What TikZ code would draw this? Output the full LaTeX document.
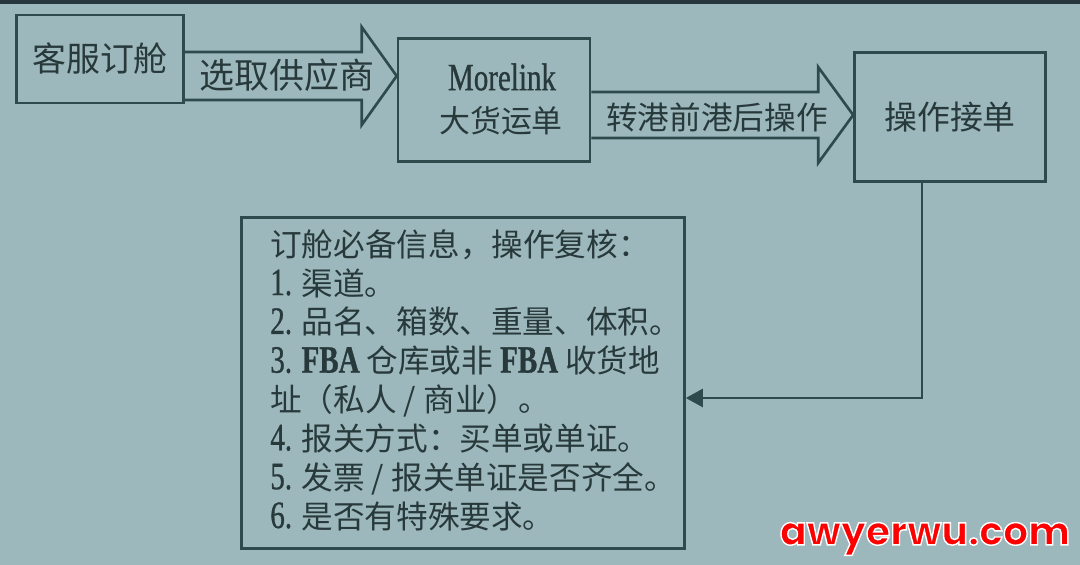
\documentclass[tikz,border=0pt]{standalone}
\usepackage{fontspec}
\setmainfont{Noto Sans CJK SC}
\newfontfamily\lat[FakeStretch=0.75,FakeBold=0.8]{Liberation Serif}
\newfontfamily\wmfont{Poppins}
\usetikzlibrary{calc,arrows.meta}
\definecolor{bgc}{HTML}{9DB8BC}
\definecolor{topc}{HTML}{26363C}
\definecolor{linec}{HTML}{2E4A4D}
\definecolor{textc}{HTML}{27393B}
\definecolor{wmred}{HTML}{FF0000}
\newcommand\pxu{0.02cm}
\newcommand\num[1]{{\lat\fontsize{22}{22.1}\selectfont #1}\hspace{0.3em}}
\newcommand\fba{{\lat\bfseries\fontsize{22}{22.1}\selectfont FBA}}
\newcommand\outlined[1]{\special{pdf:literal direct 1 1 1 RG 0.8 w 2 Tr}#1\special{pdf:literal direct 0 Tr}}
\begin{document}
\begin{tikzpicture}[x=0.02cm,y=-0.02cm,
  box/.style={draw=linec, line width=1.5pt, inner sep=0pt},
  blk/.style={draw=linec, line width=1.5pt, line join=miter},
  conn/.style={draw=linec, line width=1.5pt, -{Triangle[length=0.34cm,width=0.36cm]}},
  lbl/.style={text=textc, inner sep=0pt}]
% background
\fill[bgc] (0,0) rectangle (1080,565);
\fill[topc] (0,0) rectangle (1080,4);
\useasboundingbox (0,0) rectangle (1080,565);

% boxes
\node[box, minimum width=167*\pxu, minimum height=88*\pxu] (b1) at (100,59) {};
\node[lbl, font=\fontsize{19.3}{22}\selectfont] (b1t) at (b1.center) {客服订舱};

\node[box, minimum width=192*\pxu, minimum height=123*\pxu] (b2) at (494,100) {};
\node[lbl, font=\lat\fontsize{22}{24}\selectfont] (b2t1) at (502,77) {Morelink};
\node[lbl, font=\fontsize{17.6}{20}\selectfont] (b2t2) at (501,121) {大货运单};

\node[box, minimum width=191*\pxu, minimum height=129*\pxu] (b3) at (950,117) {};
\node[lbl, font=\fontsize{18.7}{22}\selectfont] (b3t) at (b3.center) {操作接单};

\node[box, minimum width=443*\pxu, minimum height=331*\pxu] (big) at (463,383) {};
\node[lbl, anchor=west, align=left, font=\fontsize{18}{22.1}\selectfont] (bigt) at (270,380) {%
订舱必备信息，操作复核：\\
\num{1.}渠道。\\
\num{2.}品名、箱数、重量、体积。\\
\num{3.}\fba\ 仓库或非 \fba\ 收货地\\
址（私人 / 商业）。\\
\num{4.}报关方式：买单或单证。\\
\num{5.}发票 / 报关单证是否齐全。\\
\num{6.}是否有特殊要求。};

% block arrow 1
\coordinate (a1y) at (0,76);
\path (b1.east |- a1y) coordinate (a1s) (b2.west |- a1y) coordinate (a1e);
\draw[blk] ($(a1s)+(0,-24)$) -- ($(a1e)+(-35,-24)$) -- ($(a1e)+(-35,-49)$) -- (a1e)
  -- ($(a1e)+(-35,49)$) -- ($(a1e)+(-35,24)$) -- ($(a1s)+(0,24)$);
\node[lbl, font=\fontsize{19.9}{22}\selectfont] (a1t) at (287,75) {选取供应商};

% block arrow 2
\coordinate (a2y) at (0,115);
\path (b2.east |- a2y) coordinate (a2s) (b3.west |- a2y) coordinate (a2e);
\draw[blk] ($(a2s)+(0,-23)$) -- ($(a2e)+(-35,-23)$) -- ($(a2e)+(-35,-48)$) -- (a2e)
  -- ($(a2e)+(-35,48)$) -- ($(a2e)+(-35,23)$) -- ($(a2s)+(0,23)$);
\node[lbl, font=\fontsize{18}{22}\selectfont] (a2t) at (717,117) {转港前港后操作};

% connector
\coordinate (c1) at (922,398);
\draw[conn] (b3.south -| c1) |- (big.east |- c1);

% watermark
\node[text=wmred, inner sep=0pt, font=\wmfont\bfseries\fontsize{22.5}{24}\selectfont] (wm) at (925,539) {\outlined{awyerwu.com}};
\end{tikzpicture}
\end{document}
